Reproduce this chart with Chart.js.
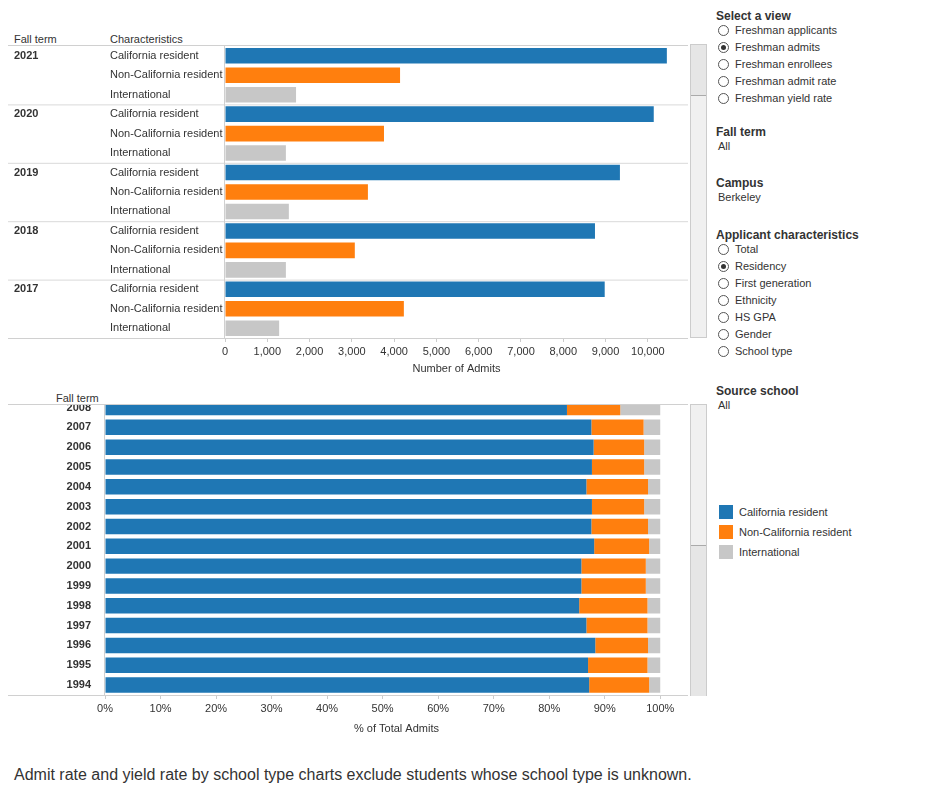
<!DOCTYPE html>
<html><head><meta charset="utf-8">
<script src="https://cdn.jsdelivr.net/npm/chart.js@4"></script>
<style>
body{margin:0;background:#fff;font-family:"Liberation Sans",Arial,sans-serif;color:#333;}
.abs{position:absolute;}
.h{font-size:12px;font-weight:bold;color:#333;}
.t{font-size:11px;color:#333;}
.r{font-size:11px;color:#333;height:17px;line-height:17px;}
.r i{display:inline-block;width:11px;height:11px;border:1px solid #555;border-radius:50%;vertical-align:-2px;margin-right:6px;box-sizing:border-box;position:relative;background:#fff}
.r i.on::after{content:"";position:absolute;left:2px;top:2px;width:5px;height:5px;border-radius:50%;background:#333}
.lg{font-size:11px;height:20px;line-height:14px}
.lg b{display:inline-block;width:14px;height:14px;vertical-align:-3px;margin-right:6px}
</style></head><body>
<div class="abs t" style="left:14px;top:33px">Fall term</div>
<div class="abs t" style="left:110px;top:33px">Characteristics</div>
<div class="abs" style="left:0;top:0;width:690px;height:380px"><canvas id="c1"></canvas></div>
<div class="abs" style="left:690px;top:44px;width:17px;height:294px;background:#f0f0f0;border:1px solid #ccc;box-sizing:border-box"></div>
<div class="abs" style="left:691px;top:45px;width:15px;height:50px;background:#e6e6e6;border-bottom:1px solid #aaa"></div>

<div class="abs t" style="left:56px;top:392px">Fall term</div>
<div class="abs" style="left:8px;top:404px;width:680px;border-top:1px solid #d0d0d0"></div>
<div class="abs" style="left:0;top:405px;width:690px;height:335px;overflow:hidden"><div class="abs" style="left:0;top:-20px;width:690px;height:355px"><canvas id="c2"></canvas></div></div>
<div class="abs" style="left:690px;top:404px;width:17px;height:292px;background:#f0f0f0;border:1px solid #ccc;box-sizing:border-box"></div>
<div class="abs" style="left:691px;top:545px;width:15px;height:150px;background:#e6e6e6;border-top:1px solid #aaa"></div>

<div class="abs h" style="left:716px;top:9px">Select a view</div>
<div class="abs" style="left:718px;top:22px">
<div class="r"><i></i>Freshman applicants</div><div class="r"><i class="on"></i>Freshman admits</div><div class="r"><i></i>Freshman enrollees</div><div class="r"><i></i>Freshman admit rate</div><div class="r"><i></i>Freshman yield rate</div></div>
<div class="abs h" style="left:716px;top:125px">Fall term</div>
<div class="abs t" style="left:718px;top:140px">All</div>
<div class="abs h" style="left:716px;top:176px">Campus</div>
<div class="abs t" style="left:718px;top:191px">Berkeley</div>
<div class="abs h" style="left:716px;top:228px">Applicant characteristics</div>
<div class="abs" style="left:718px;top:241px">
<div class="r"><i></i>Total</div><div class="r"><i class="on"></i>Residency</div><div class="r"><i></i>First generation</div><div class="r"><i></i>Ethnicity</div><div class="r"><i></i>HS GPA</div><div class="r"><i></i>Gender</div><div class="r"><i></i>School type</div></div>
<div class="abs h" style="left:716px;top:384px">Source school</div>
<div class="abs t" style="left:718px;top:399px">All</div>
<div class="abs" style="left:719px;top:505px">
<div class="lg"><b style="background:#1f77b4"></b>California resident</div>
<div class="lg"><b style="background:#ff7f0e"></b>Non-California resident</div>
<div class="lg"><b style="background:#c7c7c7"></b>International</div></div>
<div class="abs" style="left:14px;top:766px;font-size:16px;color:#333">Admit rate and yield rate by school type charts exclude students whose school type is unknown.</div>
<script>
const characteristics=["California resident","Non-California resident","International"];
const topYears=["2021","2020","2019","2018","2017"];
const topCA=[10450,10140,9340,8750,8980];
const topNonCA=[4140,3760,3380,3070,4230];
const topIntl=[1680,1440,1510,1440,1280];
const topTicks=[0,1000,2000,3000,4000,5000,6000,7000,8000,9000,10000];

const botYears=["2008","2007","2006","2005","2004","2003","2002","2001","2000","1999","1998","1997","1996","1995","1994"];
const botCA=[83.2,87.6,88.0,87.7,86.7,87.7,87.6,88.1,85.8,85.8,85.4,86.7,88.3,87.0,87.2];
const botNonCA=[9.6,9.4,9.1,9.4,11.1,9.4,10.2,9.9,11.6,11.6,12.3,11.0,9.5,10.7,10.8];
const botIntl=[7.2,3.0,2.9,2.9,2.2,2.9,2.2,2.0,2.6,2.6,2.3,2.3,2.2,2.3,2.0];
const colors=["#1f77b4","#ff7f0e","#c7c7c7"];
const F='"Liberation Sans", Arial, sans-serif';
Chart.defaults.font.family=F;Chart.defaults.font.size=11;Chart.defaults.color="#333";

const labels1=[],vals1=[],cols1=[];
topYears.forEach((y,i)=>{[topCA[i],topNonCA[i],topIntl[i]].forEach((v,j)=>{labels1.push(characteristics[j]);vals1.push(v);cols1.push(colors[j]);});});
const yearPlugin={id:'yp',afterDraw(ch){const c=ch.ctx,a=ch.chartArea,ys=ch.scales.y;c.save();
 c.font='bold 11px '+F;c.fillStyle='#333';c.textBaseline='middle';
 topYears.forEach((y,i)=>{c.fillText(y,14,ys.getPixelForValue(i*3));
  if(i>0){const py=(ys.getPixelForValue(i*3)+ys.getPixelForValue(i*3-1))/2;c.strokeStyle='#d9d9d9';c.beginPath();c.moveTo(8,py+.5);c.lineTo(a.right,py+.5);c.stroke();}});
 c.strokeStyle='#d0d0d0';c.beginPath();c.moveTo(8,a.top-.5);c.lineTo(a.right,a.top-.5);c.moveTo(8,a.bottom+.5);c.lineTo(a.right,a.bottom+.5);
 c.moveTo(a.left-.5,a.top);c.lineTo(a.left-.5,a.bottom);c.stroke();c.restore();}};
new Chart(document.getElementById('c1'),{type:'bar',
 data:{labels:labels1,datasets:[{data:vals1,backgroundColor:cols1,barPercentage:0.8,categoryPercentage:1}]},
 options:{indexAxis:'y',responsive:true,maintainAspectRatio:false,animation:false,
  layout:{padding:{left:110,top:46,right:2,bottom:0}},
  plugins:{legend:{display:false},tooltip:{enabled:false}},
  scales:{y:{grid:{display:false},border:{display:false},ticks:{crossAlign:'far',padding:0,color:'#333'},afterFit(s){s.width=115;}},
   x:{min:0,max:10950,afterBuildTicks(s){s.ticks=topTicks.map(v=>({value:v}));},
    ticks:{callback:v=>v.toLocaleString('en-US'),maxRotation:0,color:'#333'},
    grid:{drawOnChartArea:false,tickLength:4,color:'#ccc'},border:{display:false},
    title:{display:true,text:'Number of Admits',color:'#333',padding:{top:2}},afterFit(s){s.height=42;}}}},
 plugins:[yearPlugin]});

const borderPlugin={id:'bp',afterDraw(ch){const c=ch.ctx,a=ch.chartArea;c.save();c.strokeStyle='#d0d0d0';c.beginPath();
 c.moveTo(8,a.bottom+.5);c.lineTo(a.right,a.bottom+.5);c.moveTo(a.left-.5,a.top);c.lineTo(a.left-.5,a.bottom);c.stroke();c.restore();}};
const pctTicks=[0,10,20,30,40,50,60,70,80,90,100];
new Chart(document.getElementById('c2'),{type:'bar',
 data:{labels:botYears,datasets:[
  {label:characteristics[0],data:botCA,backgroundColor:colors[0]},
  {label:characteristics[1],data:botNonCA,backgroundColor:colors[1]},
  {label:characteristics[2],data:botIntl,backgroundColor:colors[2]}].map(d=>Object.assign(d,{barPercentage:0.78,categoryPercentage:1}))},
 options:{indexAxis:'y',responsive:true,maintainAspectRatio:false,animation:false,
  layout:{padding:{left:0,top:0,right:2,bottom:0}},
  plugins:{legend:{display:false},tooltip:{enabled:false}},
  scales:{y:{stacked:true,grid:{display:false},border:{display:false},ticks:{font:{weight:'bold'},padding:6,color:'#333'},afterFit(s){s.width=105;}},
   x:{stacked:true,min:0,max:105,afterBuildTicks(s){s.ticks=pctTicks.map(v=>({value:v}));},
    ticks:{callback:v=>v+'%',maxRotation:0,color:'#333'},
    grid:{drawOnChartArea:false,tickLength:4,color:'#ccc'},border:{display:false},
    title:{display:true,text:'% of Total Admits',color:'#333',padding:{top:2}},afterFit(s){s.height=45;}}}},
 plugins:[borderPlugin]});
</script></body></html>
